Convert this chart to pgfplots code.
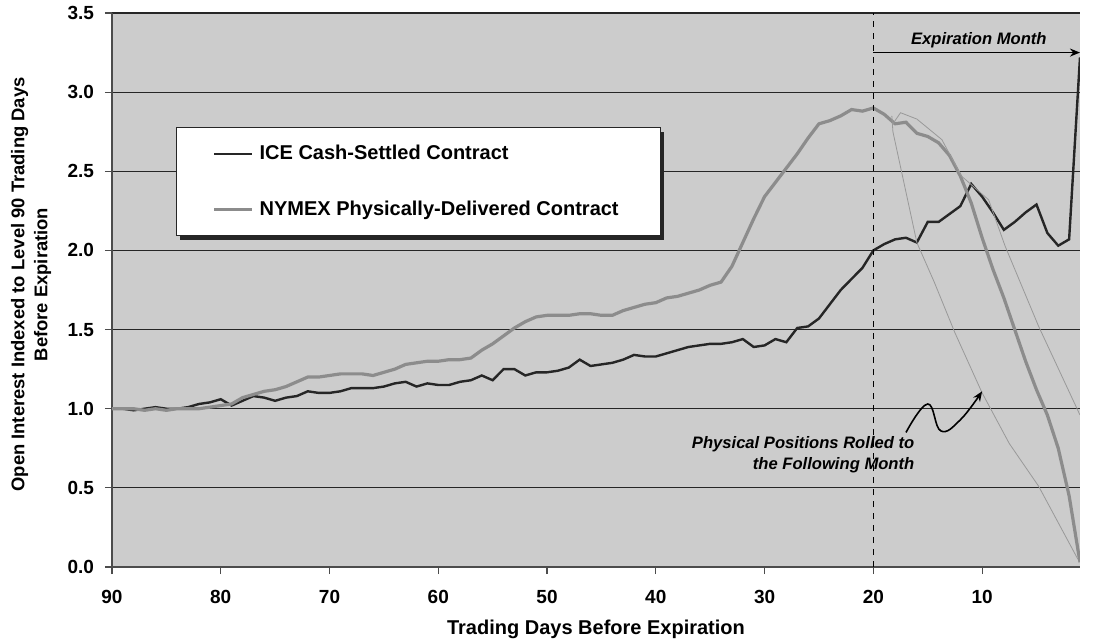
\documentclass[border=0pt]{standalone}
\usepackage{fontspec}
\setmainfont{Liberation Sans}
\usepackage{pgfplots}
\usepackage{pgfplotstable}
\pgfplotsset{compat=1.18}
\usetikzlibrary{calc,arrows.meta}

\pgfplotstableread{
d ice nymex
90 1.00 1.00
89 1.00 1.00
88 0.99 1.00
87 1.00 0.99
86 1.01 1.00
85 1.00 0.99
84 1.00 1.00
83 1.01 1.00
82 1.03 1.00
81 1.04 1.01
80 1.06 1.02
79 1.02 1.03
78 1.05 1.07
77 1.08 1.09
76 1.07 1.11
75 1.05 1.12
74 1.07 1.14
73 1.08 1.17
72 1.11 1.20
71 1.10 1.20
70 1.10 1.21
69 1.11 1.22
68 1.13 1.22
67 1.13 1.22
66 1.13 1.21
65 1.14 1.23
64 1.16 1.25
63 1.17 1.28
62 1.14 1.29
61 1.16 1.30
60 1.15 1.30
59 1.15 1.31
58 1.17 1.31
57 1.18 1.32
56 1.21 1.37
55 1.18 1.41
54 1.25 1.46
53 1.25 1.51
52 1.21 1.55
51 1.23 1.58
50 1.23 1.59
49 1.24 1.59
48 1.26 1.59
47 1.31 1.60
46 1.27 1.60
45 1.28 1.59
44 1.29 1.59
43 1.31 1.62
42 1.34 1.64
41 1.33 1.66
40 1.33 1.67
39 1.35 1.70
38 1.37 1.71
37 1.39 1.73
36 1.40 1.75
35 1.41 1.78
34 1.41 1.80
33 1.42 1.90
32 1.44 2.05
31 1.39 2.20
30 1.40 2.34
29 1.44 2.43
28 1.42 2.52
27 1.51 2.61
26 1.52 2.71
25 1.57 2.80
24 1.66 2.82
23 1.75 2.85
22 1.82 2.89
21 1.89 2.88
20 2.00 2.90
19 2.04 2.86
18 2.07 2.80
17 2.08 2.81
16 2.05 2.74
15 2.18 2.72
14 2.18 2.68
13 2.23 2.60
12 2.28 2.47
11 2.42 2.30
10 2.34 2.08
9 2.24 1.88
8 2.13 1.70
7 2.18 1.50
6 2.24 1.30
5 2.29 1.12
4 2.11 0.96
3 2.03 0.75
2 2.07 0.45
1 3.22 0.03
}\maintable

\pgfplotstableread{
d v
18.3 2.85
18.2 2.75
16.0 2.05
14.4 1.80
12.5 1.48
10.0 1.10
7.5 0.78
4.8 0.51
1.2 0.05
}\thinleft

\pgfplotstableread{
d v
18.2 2.80
17.5 2.87
16.0 2.83
13.7 2.70
11.9 2.47
9.4 2.32
7.9 2.03
4.8 1.52
1.0 0.96
}\thinright

\begin{document}
\begin{tikzpicture}
\begin{axis}[
  name=ax,
  scale only axis,
  width=484pt, height=277pt,
  x dir=reverse,
  xmin=1, xmax=90,
  ymin=0, ymax=3.5,
  xtick={10,20,...,90},
  ytick={0,0.5,...,3.5},
  /pgf/number format/assume math mode=true,
  tick label style={font=\bfseries\fontsize{9.5}{11}\selectfont, text=black},
  xticklabel style={yshift=-4.5pt},
  yticklabel style={xshift=-2pt, /pgf/number format/.cd, fixed, fixed zerofill, precision=1},
  axis x line*=bottom, axis y line*=left,
  axis line style={black!70, line width=0.6pt},
  tick style={black!70, line width=0.6pt},
  tick align=outside,
  major tick length=3.5pt,
  ymajorgrids,
  grid style={black!85, line width=0.6pt},
  axis background/.style={fill=black!20},
  xlabel={Trading Days Before Expiration},
  xlabel style={font=\bfseries\fontsize{10}{12}\selectfont, at={(axis description cs:0.5,-0.113)}, anchor=center},
  ylabel={Open Interest Indexed to Level 90 Trading Days\\Before Expiration},
  ylabel style={font=\bfseries\fontsize{9.2}{11.5}\selectfont, align=center, at={(axis description cs:-0.0555,0.51)}, anchor=south},
  legend style={at={(axis description cs:0.066,0.794)}, anchor=north west,
    draw=black!85, line width=0.6pt, fill=white, inner xsep=18pt, inner ysep=6.75pt, row sep=15pt,
    font=\bfseries\fontsize{10}{12}\selectfont},
  legend cell align=left,
  legend image code/.code={\draw[#1] (0pt,0pt) -- (19pt,0pt);},
]
\fill[black!85] ($(rel axis cs:0.066,0.794)+(2.3pt,-2.3pt)$) rectangle ++(242pt,-54pt);
\addplot[black!85, line width=1.2pt] table[x=d, y=ice] {\maintable};
\addlegendentry{\makebox[181.5pt][l]{\hspace{1pt}ICE Cash-Settled Contract}}
\addplot[black!45, line width=1.6pt] table[x=d, y=nymex] {\maintable};
\addlegendentry{\makebox[181.5pt][l]{\hspace{1pt}NYMEX Physically-Delivered Contract}}
\addplot[black!40, line width=0.4pt, forget plot] table[x=d, y=v] {\thinleft};
\addplot[black!40, line width=0.4pt, forget plot] table[x=d, y=v] {\thinright};

\draw[dashed, black, line width=0.7pt] (axis cs:20,0) -- (axis cs:20,3.5);
\draw[-{Stealth[length=5pt,width=4pt]}, line width=0.9pt] (axis cs:20,3.25) -- (axis cs:1,3.25);
\node[font=\bfseries\itshape\fontsize{8.3}{10}\selectfont] at (axis cs:10.3,3.33) {Expiration Month};
\node[anchor=north east, align=right, inner sep=0pt, font=\bfseries\itshape\fontsize{8.3}{10.5}\selectfont] at (axis cs:16.2,0.83) {Physical Positions Rolled to\\the Following Month};
\draw[-{Stealth[length=5pt,width=4pt]}, line width=0.8pt] plot[smooth, tension=0.7] coordinates {(axis cs:17,0.85) (axis cs:15,1.03) (axis cs:13.8,0.86) (axis cs:12,0.93) (axis cs:10,1.11)};
\end{axis}
\pgfresetboundingbox
\path ($(ax.south west)+(-56pt,-38pt)$) rectangle ($(ax.north east)+(11pt,6.5pt)$);
\end{tikzpicture}
\end{document}
